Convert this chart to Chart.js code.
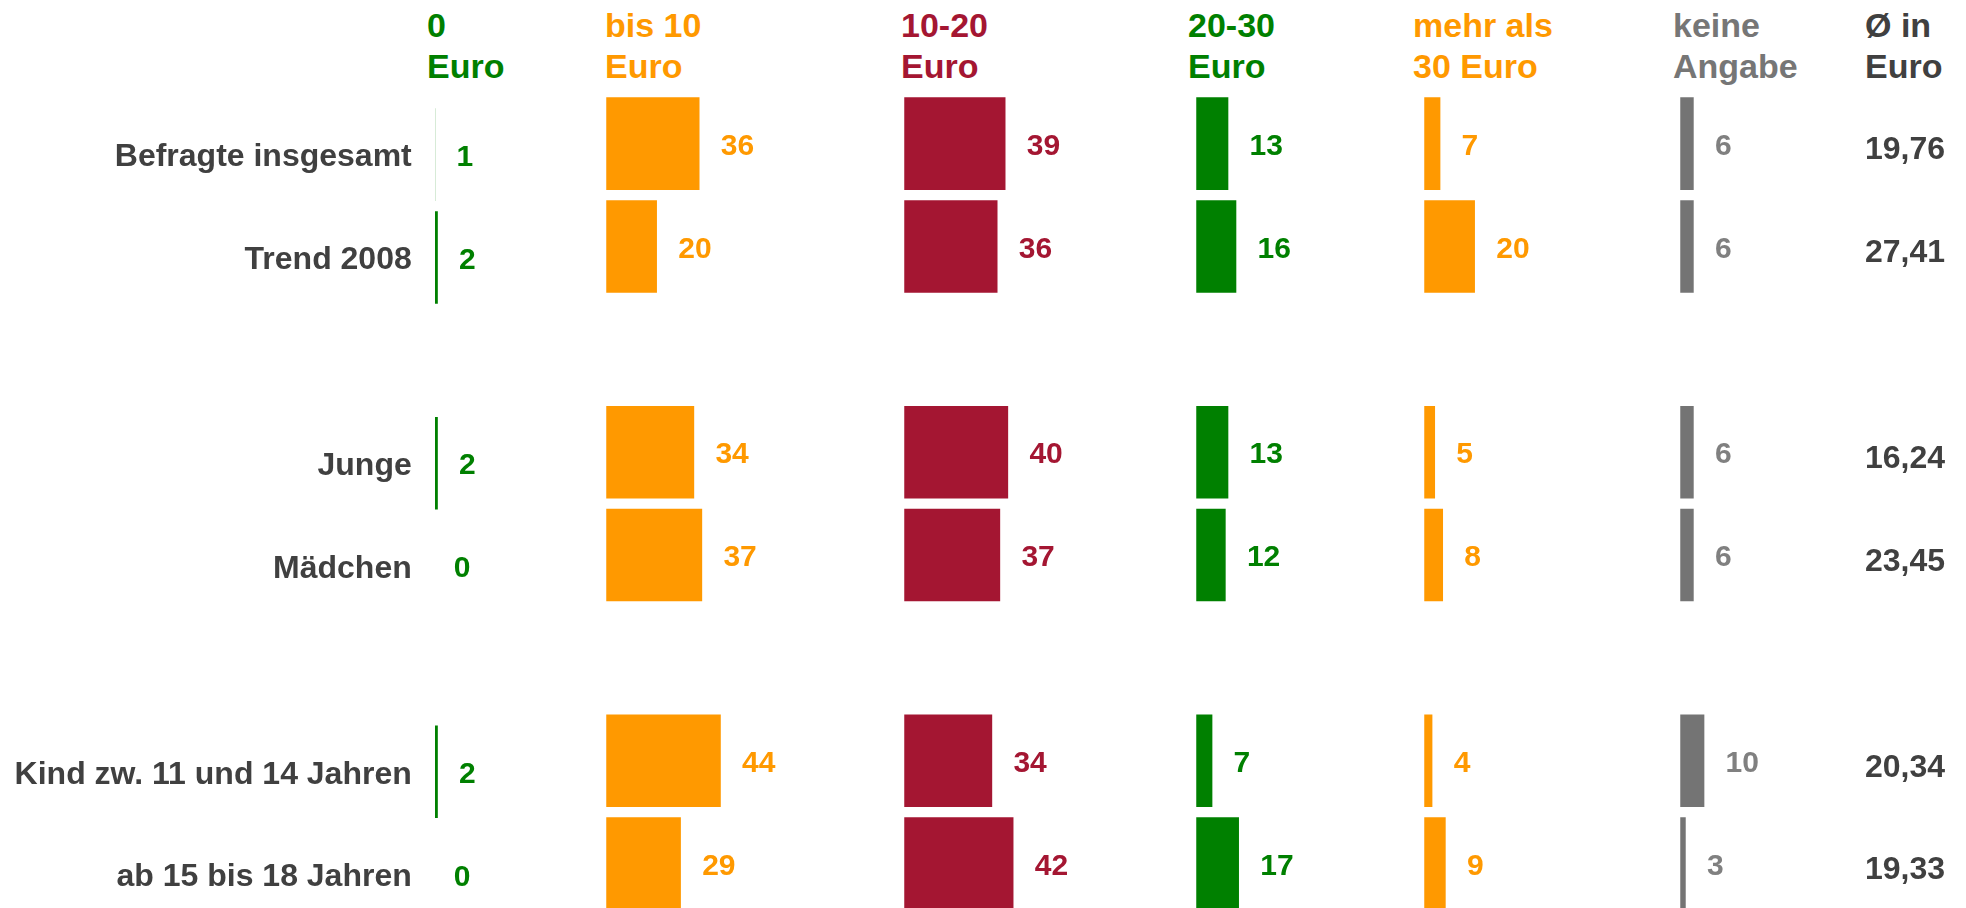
<!DOCTYPE html>
<html lang="de">
<head>
<meta charset="utf-8">
<title>Taschengeld</title>
<script src="https://cdn.jsdelivr.net/npm/chart.js@4.4.1/dist/chart.umd.min.js"></script>
<style>
    html, body { margin: 0; padding: 0; width: 1966px; height: 908px; overflow: hidden; background: #fff; }
    canvas { position: absolute; }
    .head { position: absolute; top: 5px; font: bold 34px "Liberation Sans", Arial, sans-serif; line-height: 41px; white-space: nowrap; }
</style>
</head>
<body>
<script>
"use strict";

// rows (a blank slot is left between the groups)
const rows = ['Befragte insgesamt', 'Trend 2008', 'Junge', 'Mädchen', 'Kind zw. 11 und 14 Jahren', 'ab 15 bis 18 Jahren'];

// percentages per column
const euro0 = [1, 2, 2, 0, 2, 0];
const bis10 = [36, 20, 34, 37, 44, 29];
const euro10to20 = [39, 36, 40, 37, 34, 42];
const euro20to30 = [13, 16, 13, 12, 7, 17];
const mehr30 = [7, 20, 5, 8, 4, 9];
const keineAngabe = [6, 6, 6, 6, 10, 3];

// average in euro
const avgEuro = ['19,76', '27,41', '16,24', '23,45', '20,34', '19,33'];

const headers = [['0', 'Euro'], ['bis 10', 'Euro'], ['10-20', 'Euro'], ['20-30', 'Euro'], ['mehr als', '30 Euro'], ['keine', 'Angabe'], ['Ø in', 'Euro']];

const orange = 'rgb(255,153,0)';
const red = 'rgb(164,22,50)';
const green = 'rgb(0,128,0)';
const grey = 'rgb(116,116,116)';
const dark = 'rgb(64,64,64)';
const font = '"Liberation Sans", Arial, sans-serif';

const pxPerUnit = 2.66;
const canvasH = 915;
const padTop = 92.2;

function withGaps(arr, fill) {
    return [arr[0], arr[1], fill, arr[2], arr[3], fill, arr[4], arr[5]];
}

const valueLabels = {
    id: 'valueLabels',
    afterDatasetsDraw(chart, args, opts) {
        const ctx = chart.ctx;
        const ds = chart.data.datasets[0];
        ctx.save();
        ctx.font = 'bold 30px ' + font;
        ctx.fillStyle = opts.color;
        ctx.textBaseline = 'middle';
        ctx.textAlign = 'left';
        chart.getDatasetMeta(0).data.forEach((bar, i) => {
            const v = ds.data[i];
            if (v === null || v === undefined) return;
            ctx.fillText(String(v), bar.x + 20, bar.y + 3);
        });
        ctx.restore();
    }
};

const columns = [
    {values: euro0, color: green, label: green, left: 0, width: 600, top: 10.5, axis: 'left', axisW: 433.75},
    {values: bis10, color: orange, label: orange, left: 604.75, width: 290, top: 0},
    {values: euro10to20, color: red, label: red, left: 902.75, width: 285, top: 0},
    {values: euro20to30, color: green, label: green, left: 1194.75, width: 220, top: 0},
    {values: mehr30, color: orange, label: orange, left: 1422.75, width: 250, top: 0},
    {values: keineAngabe, color: grey, label: 'rgb(128,128,128)', left: 1678.75, width: 287.25, top: 0, axis: 'right', axisW: 101}
];

const headLeft = [427, 605, 901, 1188, 1413, 1673, 1865];
const headColor = [green, orange, red, green, orange, 'rgb(118,118,118)', dark];

headers.forEach((h, i) => {
    const d = document.createElement('div');
    d.className = 'head';
    d.style.left = headLeft[i] + 'px';
    d.style.color = headColor[i];
    d.innerHTML = h[0] + '<br>' + h[1];
    document.body.appendChild(d);
});

function yScale(col) {
    if (!col.axis) return {display: false};
    const ticks = {
        autoSkip: false,
        padding: col.axis === 'left' ? 22 : 0,
        labelOffset: col.axis === 'left' ? 3 : 7,
        color: dark,
        font: {family: font, size: 32, weight: 'bold'}
    };
    if (col.axis === 'right') {
        const slotAvg = withGaps(avgEuro, '');
        ticks.callback = (v, i) => slotAvg[i];
    }
    return {
        display: true,
        position: col.axis,
        grid: {display: false, drawTicks: false},
        border: {display: false},
        ticks: ticks,
        afterFit: (a) => {
            a.width = col.axisW;
            a.paddingTop = 0;
            a.paddingBottom = 0;
        }
    };
}

columns.forEach(col => {
    const cv = document.createElement('canvas');
    cv.width = Math.round(col.width);
    cv.height = canvasH;
    cv.style.left = col.left + 'px';
    cv.style.top = col.top + 'px';
    document.body.appendChild(cv);

    const areaW = cv.width - (col.axis ? col.axisW : 0);

    new Chart(cv, {
        type: 'bar',
        data: {
            labels: withGaps(rows, ''),
            datasets: [{
                data: withGaps(col.values, null),
                backgroundColor: col.color,
                borderColor: '#fff',
                borderWidth: 1.25,
                borderSkipped: false,
                barPercentage: 0.924,
                categoryPercentage: 1
            }]
        },
        options: {
            indexAxis: 'y',
            responsive: false,
            animation: false,
            layout: {padding: {top: padTop, bottom: 0, left: 0, right: 0}},
            plugins: {
                legend: {display: false},
                tooltip: {enabled: false},
                valueLabels: {color: col.label}
            },
            scales: {
                x: {display: false, min: 0, max: areaW / pxPerUnit},
                y: yScale(col)
            }
        },
        plugins: [valueLabels]
    });
});
</script>
</body>
</html>
